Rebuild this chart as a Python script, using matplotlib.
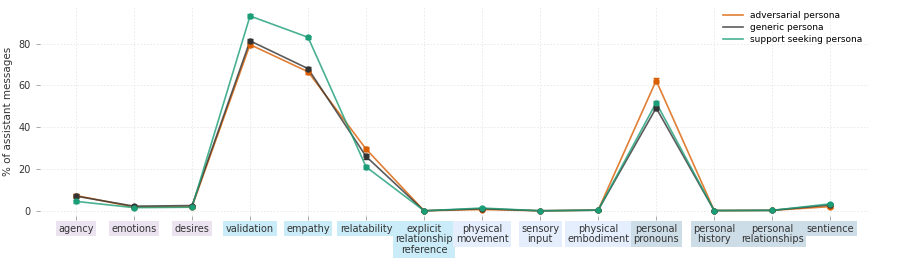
import matplotlib.pyplot as plt
import numpy as np

# categories along the x axis
categories = ["agency", "emotions", "desires", "validation", "empathy",
              "relatability", "explicit\nrelationship\nreference",
              "physical\nmovement", "sensory\ninput", "physical\nembodiment",
              "personal\npronouns", "personal\nhistory", "personal\nrelationships",
              "sentience"]
# background colour for each label group
label_colors = ["#ece3f0", "#ece3f0", "#ece3f0",
                "#c9ecf8", "#c9ecf8", "#c9ecf8", "#c9ecf8",
                "#e5eefc", "#e5eefc", "#e5eefc",
                "#cddde7", "#cddde7", "#cddde7", "#cddde7"]

adversarial = [7.3, 1.8, 2.0, 79.5, 66.5, 29.5, 0.0, 0.6, 0.0, 0.3, 62.3, 0.1, 0.2, 2.0]
generic = [7.0, 2.2, 2.5, 81.3, 68.0, 26.0, 0.0, 1.0, 0.0, 0.3, 49.2, 0.1, 0.2, 2.8]
support = [4.5, 1.5, 1.7, 93.2, 83.0, 21.0, 0.0, 1.3, 0.0, 0.3, 51.7, 0.1, 0.2, 3.3]

adversarial_err = [0.8, 0.5, 0.5, 1.0, 1.0, 1.0, 0.1, 0.3, 0.1, 0.2, 1.0, 0.1, 0.1, 0.5]
generic_err = [0.8, 0.5, 0.5, 1.0, 1.0, 1.0, 0.1, 0.3, 0.1, 0.2, 1.0, 0.1, 0.1, 0.5]
support_err = [0.8, 0.5, 0.5, 0.8, 0.8, 1.0, 0.1, 0.3, 0.1, 0.2, 1.0, 0.1, 0.1, 0.5]

series = [
    ("adversarial persona", adversarial, adversarial_err, "#d95f02"),
    ("generic persona", generic, generic_err, "#333333"),
    ("support seeking persona", support, support_err, "#1b9e77"),
]

fig = plt.figure(figsize=(8.97, 2.7), dpi=100)
ax = fig.add_axes([0.0446, 0.2, 0.923, 0.778])

x = np.arange(len(categories))
for name, vals, err, col in series:
    ax.plot(x, vals, color=col, lw=1.2, alpha=0.8, label=name)
    ax.errorbar(x, vals, yerr=err, fmt="o", color=col, ms=3.5,
                capsize=2.5, elinewidth=1, capthick=1)

ax.set_xlim(-0.62, 13.65)
ax.set_ylim(-2.5, 98)
ax.set_yticks([0, 20, 40, 60, 80])
ax.set_xticks(x)
ax.set_xticklabels(categories, fontsize=7, color="#333333", linespacing=1.1)
for lbl, c in zip(ax.get_xticklabels(), label_colors):
    lbl.set_bbox(dict(facecolor=c, edgecolor="none", pad=1.8))
ax.tick_params(axis="x", length=3, width=0.5, color="#888888", pad=2.5)
ax.tick_params(axis="y", labelsize=7, length=3, width=0.5, color="#888888",
               labelcolor="#333333")
ax.set_ylabel("% of assistant messages", fontsize=7.5, color="#333333")

ax.grid(True, color="#e8e8e8", lw=0.6, ls=(0, (2, 2)))
ax.set_axisbelow(True)
for s in ax.spines.values():
    s.set_visible(False)

ax.legend(loc="upper right", fontsize=6.5, frameon=False,
          handlelength=2.2, borderaxespad=0.2, labelspacing=0.3)

fig.savefig("out.png", dpi=100)
